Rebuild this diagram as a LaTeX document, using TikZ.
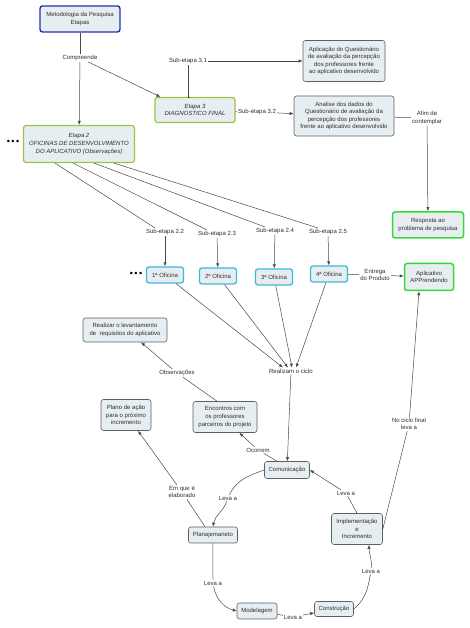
\documentclass[tikz,border=0pt]{standalone}
\usepackage{fontspec}
\setmainfont{Liberation Sans}
\usetikzlibrary{arrows.meta}

\definecolor{boxfill}{HTML}{E7EEF2}
\definecolor{boxline}{HTML}{5A6066}
\definecolor{metoline}{HTML}{2430B0}
\definecolor{etapaline}{HTML}{9CC43E}
\definecolor{oficline}{HTML}{3FB9DA}
\definecolor{fimline}{HTML}{35D935}
\definecolor{txt}{HTML}{2E2E2E}
\definecolor{linkgray}{HTML}{474747}

\begin{document}
\begin{tikzpicture}[x=1pt,y=1pt,
  font=\fontsize{6}{7.6}\selectfont, text=txt,
  concept/.style={draw=boxline, fill=boxfill, rounded corners=2.5pt, line width=0.6pt,
    align=center, inner xsep=4pt, inner ysep=2.5pt},
  metobox/.style={concept, draw=metoline, line width=1.4pt, minimum width=80pt, minimum height=26pt},
  etapabox/.style={concept, draw=etapaline, line width=1.2pt, font=\fontsize{6}{7.6}\selectfont\itshape},
  oficbox/.style={concept, draw=oficline, line width=1.3pt, minimum width=37pt, minimum height=16pt},
  fimbox/.style={concept, draw=fimline, line width=1.5pt},
  phrase/.style={align=center, inner sep=1pt},
  dotsnode/.style={font=\fontsize{9}{9}\selectfont, text=black, inner sep=0pt},
  link/.style={draw=linkgray, line width=0.5pt},
  linkto/.style={link, -{Latex[length=4pt,width=3.2pt]}}]
\useasboundingbox (0,0) rectangle (470,628);

% top of the map
\node[metobox] (meto) at (80,609) {Metodologia da Pesquisa\\Etapas};
\node[phrase] (compreende) at (80,570) {Compreende};
\node[etapabox, minimum width=80pt, minimum height=25pt] (etapa3) at (195,518) {Etapa 3\\DIAGNOSTICO FINAL};
\node[etapabox, minimum width=111pt, minimum height=37pt] (etapa2) at (79,484) {Etapa 2\\OFICINAS DE DESENVOLVIMENTO\\DO APLICATIVO (Observações)};
\node[dotsnode] (dotsa) at (13,486) {•\,•\,•};

\draw[link] (meto) -- (compreende);
\draw[linkto] (compreende) -- (etapa2);
\draw[linkto] (compreende) -- ([xshift=6pt]etapa3.north west);

% etapa 3
\node[phrase] (sub31) at (188,567) {Sub-etapa 3.1};
\node[concept, minimum width=82pt, minimum height=41pt] (aplic) at (344,567) {Aplicação do Questionário\\de avaliação da percepção\\dos professores frente\\ao aplicativo desenvolvido};
\node[phrase] (sub32) at (257,516) {Sub-etapa 3.2};
\node[concept, minimum width=100pt, minimum height=40pt] (analise) at (344,512) {Analise dos dados do\\Questionário de avaliação da\\percepção dos professores\\frente ao aplicativo desenvolvido};
\node[phrase] (afim) at (427,510) {Afim de\\contemplar};
\node[fimbox, minimum width=71pt, minimum height=26pt] (resposta) at (428,403) {Resposta ao\\problema de pesquisa};

\draw[link] ([xshift=-5pt]etapa3.north) -- (etapa3.north -| sub31.south) -- (sub31.south);
\draw[linkto] (sub31) -- (aplic);
\draw[link] (etapa3) -- (sub32);
\draw[linkto] (sub32) -- (analise);
\draw[link] (analise) -- (afim);
\draw[linkto] (afim) -- (resposta);

% etapa 2 e oficinas
\foreach \i/\j/\sx/\sy/\ox/\oy/\dx in {1/2/165/396/165/353/-24, 2/3/217/394/218/352/-6, 3/4/275/397/274/351/15, 4/5/328/396/329/354/35} {
  \node[phrase] (sub\j) at (\sx,\sy) {Sub-etapa 2.\j};
  \node[oficbox] (of\i) at (\ox,\oy) {\i{}ª Oficina};
  \draw[link] ([xshift=\dx pt]etapa2.south) -- ([xshift=-10pt]sub\j.north);
  \draw[linkto] (sub\j) -- (of\i);
}
\node[dotsnode] (dotsb) at (136,354) {•\,•\,•};
\node[phrase] (entrega) at (375,353) {Entrega\\do Produto};
\node[fimbox, minimum width=49pt, minimum height=27pt] (app) at (429,351) {Aplicativo\\APPrendendo};
\draw[link] (of4) -- (entrega);
\draw[linkto] (entrega) -- (app);

% ciclo
\node[phrase] (realizam) at (291,257) {Realizam o ciclo};
\foreach \i/\rx in {1/-8, 2/-3, 3/1, 4/5}
  \draw[linkto] (of\i) -- ([xshift=\rx pt]realizam.north);

\node[concept, minimum width=84pt, minimum height=24pt] (realizar) at (125,298) {Realizar o levantamento\\de\ \ requisitos do aplicativo};
\node[phrase] (observ) at (177,255) {Observações};
\node[concept, minimum width=64pt, minimum height=31pt] (encontros) at (225,211) {Encontros com\\os professores\\parceiros do projeto};
\node[concept, minimum width=50pt, minimum height=31pt] (plano) at (126,213) {Plano de ação\\para o próximo\\incremento};
\node[phrase] (ocorrem) at (258,178) {Ocorrem};
\node[concept, minimum width=45pt, minimum height=17pt] (comun) at (287,158) {Comunicação};
\node[phrase] (leva1) at (228,130) {Leva a};
\node[concept, minimum width=49pt, minimum height=16pt] (planaj) at (213,93) {Planajemaneto};
\node[phrase] (emque) at (182,136) {Em que é\\elaborado};
\node[phrase] (leva2) at (213,45) {Leva a};
\node[concept, minimum width=40pt, minimum height=16pt] (model) at (257,17) {Modelagem};
\node[phrase] (leva3) at (293,11) {Leva a};
\node[concept, minimum width=39pt, minimum height=15pt] (constr) at (334,19) {Construção};
\node[phrase] (leva4) at (371,57) {Leva a};
\node[concept, minimum width=51pt, minimum height=31pt] (impl) at (357,99) {Implementação\\e\\Incremento};
\node[phrase] (leva5) at (346,135) {Leva a};
\node[phrase] (nociclo) at (409,204) {No ciclo final\\leva a};

\draw[linkto] (realizam) -- (comun);
\draw[link] ([xshift=-8pt]encontros.north) -- (observ);
\draw[linkto] (observ) -- ([xshift=16pt]realizar.south);
\draw[link] ([xshift=-10pt]comun.north) -- (ocorrem);
\draw[linkto] (ocorrem) -- ([xshift=-18pt]encontros.south east);
\draw[link] (comun.west) to[out=200,in=65] (leva1);
\draw[linkto] (leva1) to[out=250,in=80] (planaj.north);
\draw[link] ([xshift=-8pt]planaj.north) -- (emque);
\draw[linkto] (emque) -- ([xshift=12pt]plano.south);
\draw[link] (planaj.south) to[out=-92,in=90] (leva2);
\draw[linkto] (leva2) to[out=-80,in=165] (model.west);
\draw[link] (model) -- (leva3);
\draw[linkto] (leva3) -- (constr);
\draw[link] (constr.east) to[out=40,in=-100] (leva4);
\draw[linkto] (leva4) to[out=85,in=-90] ([xshift=12pt]impl.south);
\draw[link] (impl.north) -- (leva5);
\draw[linkto] (leva5) -- (comun.east);
\draw[link] (impl.east) -- (nociclo);
\draw[linkto] (nociclo) -- ([xshift=-10pt]app.south);

\end{tikzpicture}
\end{document}
